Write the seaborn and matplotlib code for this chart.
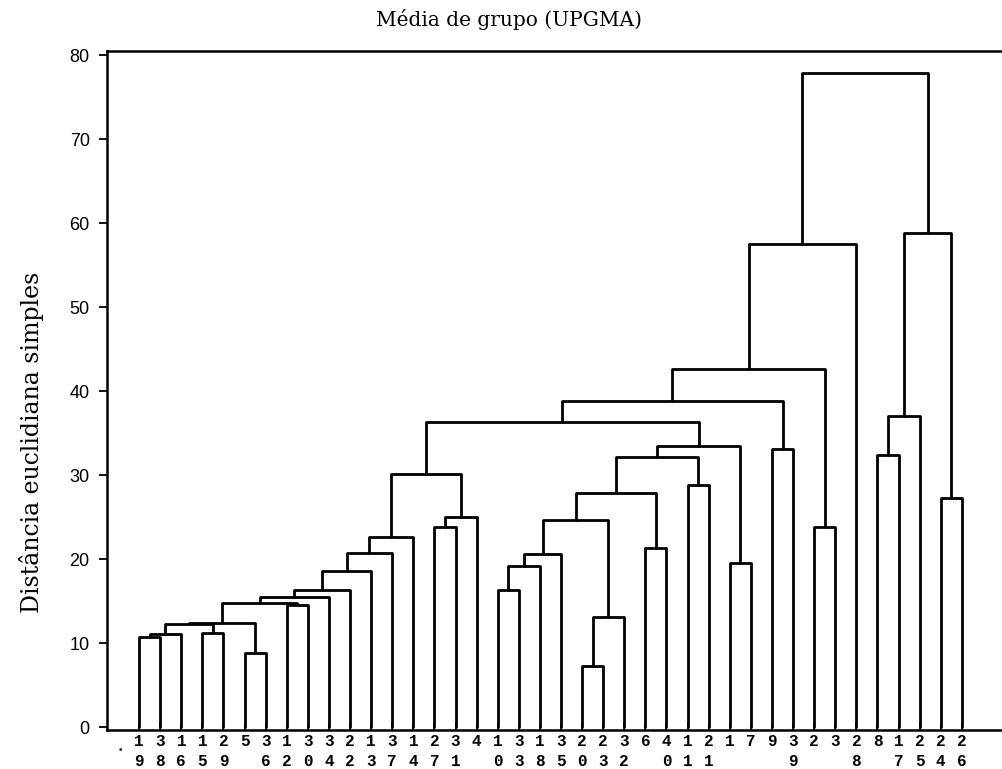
import numpy as np
import pandas as pd
import matplotlib
matplotlib.use("Agg")
import matplotlib.pyplot as plt
import seaborn as sns

# ---------------- data ----------------
title = "Média de grupo (UPGMA)"
y_label = "Distância euclidiana simples"

# leaf order along the x axis (object numbers)
leaf_labels = [19, 38, 16, 15, 29, 5, 36, 12, 30, 34, 22, 13, 37, 14, 27, 31, 4,
               10, 33, 18, 35, 20, 23, 32, 6, 40, 11, 21, 1, 7, 9, 39, 2, 3, 28,
               8, 17, 25, 24, 26]

# merges: children are leaf numbers (int) or earlier merges ("c<k>")
merge_left = [19, "c0", 15, 5, "c1", "c4", 12, "c5", "c7", "c8", "c9", "c10", "c11",
              27, "c13", "c12", 10, "c16", "c17", 20, "c19", "c18", 6, "c21", 11,
              "c23", 1, "c25", "c15", 9, "c28", 2, "c30", "c32", 8, "c34", 24,
              "c35", "c33"]
merge_right = [38, 16, 29, 36, "c2", "c3", 30, "c6", 34, 22, 13, 37, 14,
               31, 4, "c14", 33, 18, 35, 23, 32, "c20", 40, "c22", 21,
               "c24", 7, "c26", "c27", 39, "c29", 3, "c31", 28, 17, 25, 26,
               "c36", "c37"]
merge_height = [10.7, 11.05, 11.25, 8.8, 12.3, 12.45, 14.55, 14.8, 15.55, 16.35,
                18.65, 20.7, 22.6, 23.9, 25.0, 30.2, 16.35, 19.25, 20.65, 7.3,
                13.15, 24.7, 21.3, 27.9, 28.9, 32.15, 19.6, 33.45, 36.4, 33.15,
                38.8, 23.8, 42.7, 57.55, 32.4, 37.0, 27.3, 58.8, 77.9]

y_ticks = [0, 10, 20, 30, 40, 50, 60, 70, 80]

# ---------------- build dendrogram links ----------------
leaf_pos = {lab: i for i, lab in enumerate(leaf_labels)}
stem_x, stem_h = {}, {}


def node(c):
    if isinstance(c, str):
        return stem_x[c], stem_h[c]
    return float(leaf_pos[c]), 0.0


rows = []
for k, (a, b, h) in enumerate(zip(merge_left, merge_right, merge_height)):
    xa, ha = node(a)
    xb, hb = node(b)
    for px, py in [(xa, ha), (xa, h), (xb, h), (xb, hb)]:
        rows.append({"link": k, "x": px, "y": py})
    stem_x[f"c{k}"] = (xa + xb) / 2
    stem_h[f"c{k}"] = h
links = pd.DataFrame(rows)

# ---------------- plot ----------------
sns.set_style("ticks")
plt.rcParams["font.family"] = ["DejaVu Serif", "Liberation Serif"]

fig = plt.figure(figsize=(10.03, 7.69), dpi=100)
ax = fig.add_axes([107 / 1003, 39 / 769, 896 / 1003, 679 / 769])

sns.lineplot(data=links, x="x", y="y", units="link", estimator=None, sort=False,
             color="black", linewidth=2.0, ax=ax, legend=False)

ax.set_xlim(-1.52, 40.95)
ax.set_ylim(-0.32, 80.5)

ax.set_yticks(y_ticks)
ax.set_yticklabels([str(v) for v in y_ticks], fontfamily="Liberation Sans",
                   fontsize=13, fontweight="medium")
ax.tick_params(axis="y", direction="out", length=6, width=1.3, pad=6.5, colors="black")

ax.set_xticks(range(len(leaf_labels)))
xl = []
for lab in leaf_labels:
    s = str(lab)
    xl.append(f"{s[0]}\n{s[1]}" if len(s) == 2 else f"{s}\n ")
ax.set_xticklabels(xl, fontfamily="Liberation Mono", fontweight="bold",
                   fontsize=11.5, linespacing=1.4)
ax.tick_params(axis="x", direction="in", length=5, width=1.2, pad=3, colors="black")
ax.text(-0.9, -0.02, "·", transform=ax.get_xaxis_transform(), ha="center",
        va="top", fontsize=11, fontweight="bold")

ax.set_xlabel("")
ax.set_ylabel("")
for side in ["left", "top", "bottom"]:
    ax.spines[side].set_linewidth(1.8)
    ax.spines[side].set_color("black")
ax.spines["right"].set_visible(False)

fig.text(509 / 1003, 1 - 20 / 769, title, ha="center", va="center", fontsize=14.5,
         color="black")
fig.text(32 / 1003, 1 - 442 / 769, y_label, ha="center", va="center",
         rotation=90, fontsize=17, color="black")

fig.savefig("out.png", dpi=100, facecolor="white")
